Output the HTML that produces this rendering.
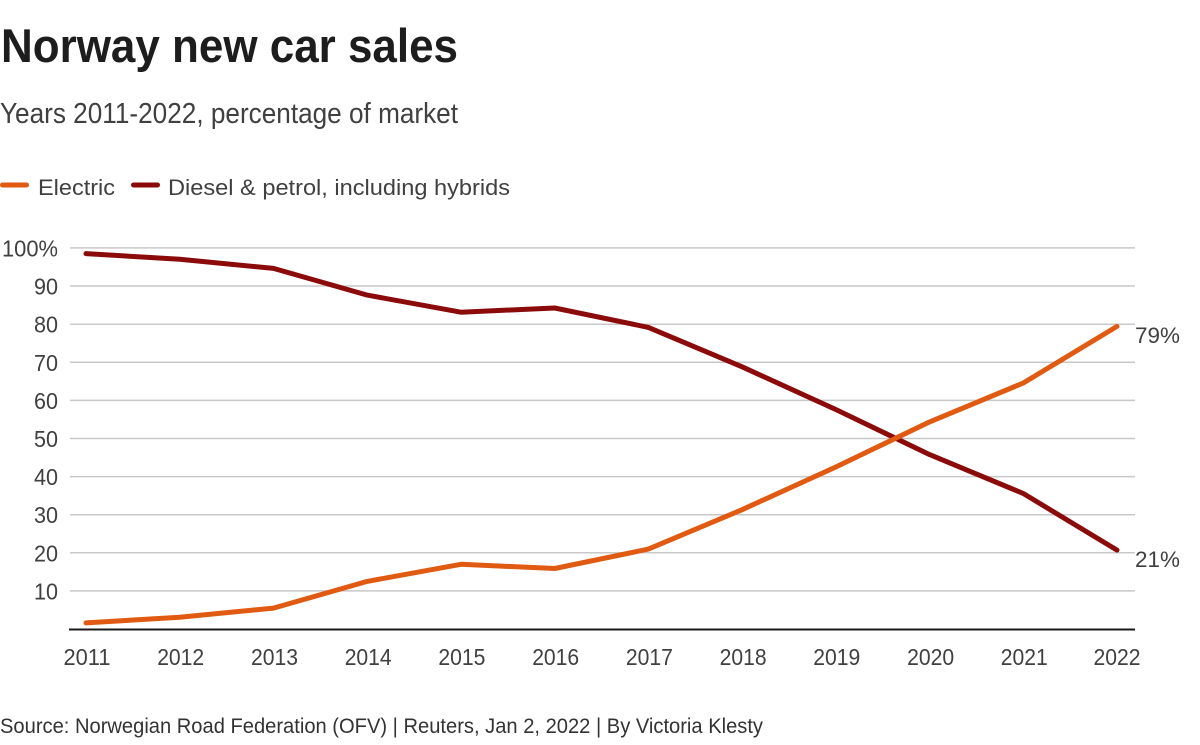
<!DOCTYPE html>
<html><head><meta charset="utf-8"><style>
html,body{margin:0;padding:0;background:#fff;}
svg{display:block;}
text{font-family:"Liberation Sans",sans-serif;}
</style></head><body>
<svg width="1200" height="745" viewBox="0 0 1200 745" xmlns="http://www.w3.org/2000/svg">
<rect width="1200" height="745" fill="#fff"/>
<text x="1" y="62" font-size="47" font-weight="bold" fill="#1d1d1d" textLength="457" lengthAdjust="spacingAndGlyphs">Norway new car sales</text>
<text x="0" y="123" font-size="29" fill="#404040" textLength="458" lengthAdjust="spacingAndGlyphs">Years 2011-2022, percentage of market</text>
<line x1="2.5" y1="185" x2="26.5" y2="185" stroke="#e05a12" stroke-width="5" stroke-linecap="round"/>
<text x="38" y="195" font-size="22.5" fill="#404040" textLength="77" lengthAdjust="spacingAndGlyphs">Electric</text>
<line x1="133.5" y1="185" x2="157.5" y2="185" stroke="#8b0a0a" stroke-width="5" stroke-linecap="round"/>
<text x="168" y="195" font-size="22.5" fill="#404040" textLength="342" lengthAdjust="spacingAndGlyphs">Diesel &amp; petrol, including hybrids</text>
<g stroke="#c8c8c8" stroke-width="1.5">
<line x1="70" y1="247.9" x2="1135" y2="247.9"/>
<line x1="70" y1="286" x2="1135" y2="286"/>
<line x1="70" y1="324.2" x2="1135" y2="324.2"/>
<line x1="70" y1="362.3" x2="1135" y2="362.3"/>
<line x1="70" y1="400.4" x2="1135" y2="400.4"/>
<line x1="70" y1="438.5" x2="1135" y2="438.5"/>
<line x1="70" y1="476.6" x2="1135" y2="476.6"/>
<line x1="70" y1="514.7" x2="1135" y2="514.7"/>
<line x1="70" y1="552.8" x2="1135" y2="552.8"/>
<line x1="70" y1="590.9" x2="1135" y2="590.9"/>
</g>
<line x1="69" y1="629.5" x2="1135" y2="629.5" stroke="#1a1a1a" stroke-width="2"/>
<g font-size="23" fill="#404040" text-anchor="end">
<text x="58" y="256.5" textLength="56" lengthAdjust="spacingAndGlyphs">100%</text>
<text x="58" y="294.5" textLength="24" lengthAdjust="spacingAndGlyphs">90</text>
<text x="58" y="332.7" textLength="24" lengthAdjust="spacingAndGlyphs">80</text>
<text x="58" y="370.8" textLength="24" lengthAdjust="spacingAndGlyphs">70</text>
<text x="58" y="408.9" textLength="24" lengthAdjust="spacingAndGlyphs">60</text>
<text x="58" y="447" textLength="24" lengthAdjust="spacingAndGlyphs">50</text>
<text x="58" y="485.1" textLength="24" lengthAdjust="spacingAndGlyphs">40</text>
<text x="58" y="523.2" textLength="24" lengthAdjust="spacingAndGlyphs">30</text>
<text x="58" y="561.3" textLength="24" lengthAdjust="spacingAndGlyphs">20</text>
<text x="58" y="599.4" textLength="24" lengthAdjust="spacingAndGlyphs">10</text>
</g>
<g font-size="23" fill="#404040" text-anchor="middle">
<text x="87" y="665" textLength="47" lengthAdjust="spacingAndGlyphs">2011</text>
<text x="180.7" y="665" textLength="47" lengthAdjust="spacingAndGlyphs">2012</text>
<text x="274.5" y="665" textLength="47" lengthAdjust="spacingAndGlyphs">2013</text>
<text x="368.2" y="665" textLength="47" lengthAdjust="spacingAndGlyphs">2014</text>
<text x="461.9" y="665" textLength="47" lengthAdjust="spacingAndGlyphs">2015</text>
<text x="555.7" y="665" textLength="47" lengthAdjust="spacingAndGlyphs">2016</text>
<text x="649.4" y="665" textLength="47" lengthAdjust="spacingAndGlyphs">2017</text>
<text x="743.1" y="665" textLength="47" lengthAdjust="spacingAndGlyphs">2018</text>
<text x="836.8" y="665" textLength="47" lengthAdjust="spacingAndGlyphs">2019</text>
<text x="930.6" y="665" textLength="47" lengthAdjust="spacingAndGlyphs">2020</text>
<text x="1024.3" y="665" textLength="47" lengthAdjust="spacingAndGlyphs">2021</text>
<text x="1117" y="665" textLength="47" lengthAdjust="spacingAndGlyphs">2022</text>
</g>
<polyline fill="none" stroke="#8b0a0a" stroke-width="5" stroke-linejoin="round" stroke-linecap="round"
points="86,253.6 179.7,259.3 273.5,268.4 367.2,295.1 460.9,312.2 554.7,308.0 648.4,327.4 742.1,366.8 835.8,409.5 929.6,454.6 1023.3,493.5 1117,550.1"/>
<polyline fill="none" stroke="#e05a12" stroke-width="5" stroke-linejoin="round" stroke-linecap="round"
points="86,622.9 179.7,617.2 273.5,608.1 367.2,581.4 460.9,564.3 554.7,568.5 648.4,549.1 742.1,509.7 835.8,467.0 929.6,421.9 1023.3,383.0 1117,326.4"/>
<text x="1135" y="343" font-size="22.5" fill="#404040" textLength="45" lengthAdjust="spacingAndGlyphs">79%</text>
<text x="1135" y="567" font-size="22.5" fill="#404040" textLength="45" lengthAdjust="spacingAndGlyphs">21%</text>
<text x="0" y="733" font-size="21" fill="#333" textLength="763" lengthAdjust="spacingAndGlyphs">Source: Norwegian Road Federation (OFV) | Reuters, Jan 2, 2022 | By Victoria Klesty</text>
</svg>
</body></html>
